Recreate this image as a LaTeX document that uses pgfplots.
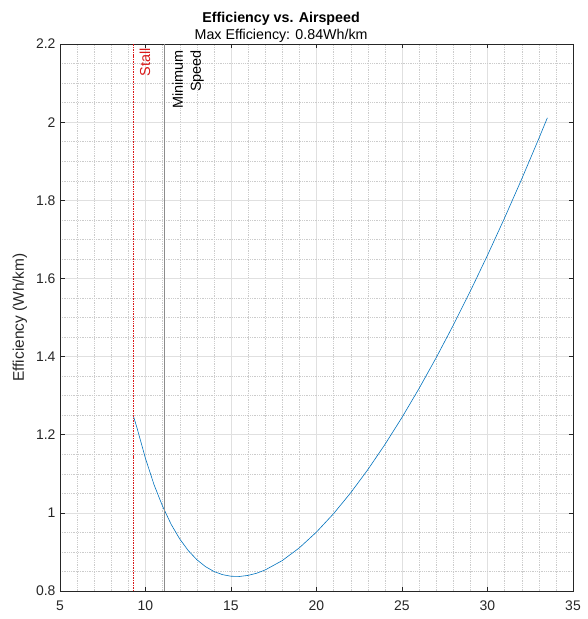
\documentclass[border=0pt]{standalone}
\usepackage{fontspec}
\setmainfont{Liberation Sans}
\usepackage{pgfplots}
\pgfplotsset{compat=1.18}
\definecolor{mblue}{rgb}{0,0.447,0.741}
\definecolor{axgray}{rgb}{0.15,0.15,0.15}
\definecolor{stallred}{rgb}{0.85,0.1,0.1}
\begin{document}
\begin{tikzpicture}
\begin{axis}[
  scale only axis,
  width=513bp, height=547bp,
  xmin=5, xmax=35, ymin=0.8, ymax=2.2,
  xtick={5,10,...,35},
  ytick={0.8,1,1.2,1.4,1.6,1.8,2,2.2},
  yticklabels={0.8,1,1.2,1.4,1.6,1.8,2,2.2},
  minor x tick num=4, minor y tick num=3,
  grid=both,
  major grid style={color=black!12, line width=0.5pt},
  minor grid style={color=black!20, dash pattern=on 0.6pt off 1.2pt, line width=0.4pt},
  minor tick length=0pt,
  major tick length=4.5bp,
  tick align=inside,
  axis line style={color=axgray, line width=0.5pt},
  tick style={color=axgray, line width=0.5pt},
  xtick pos=both, ytick pos=both,
  ticklabel style={font=\fontsize{14}{16}\selectfont, color=black!85},
  xticklabel style={yshift=-6bp},
  yticklabel style={xshift=-1bp},
  /pgf/number format/assume math mode=true,
  ylabel={Efficiency (Wh/km)},
  ylabel style={font=\fontsize{15.5}{17}\selectfont, color=black!85, at={(axis description cs:-0.064,0.5)}, anchor=south, inner sep=0pt},
  title={\textbf{Efficiency vs. Airspeed}\\Max Efficiency: 0.84Wh/km},
  title style={align=center, font=\fontsize{14.3}{17}\selectfont, at={(rel axis cs:0.431,1)}, anchor=south, inner sep=0pt, yshift=-5bp},
  clip=false,
]
\addplot[color=mblue, line width=0.6pt] coordinates {
(9.29,1.248) (9.5,1.218) (10,1.139) (10.5,1.072) (11,1.0168) (11.5,0.9706)
(12,0.9333) (12.5,0.9035) (13,0.8802) (13.5,0.8626) (14,0.8500) (14.5,0.8419)
(15,0.8378) (15.5,0.8372) (16,0.8399) (16.5,0.8455) (17,0.8539) (18,0.8779)
(19,0.9106) (20,0.9509) (21,0.9980) (22,1.0514) (23,1.1105) (24,1.1749)
(25,1.2443) (26,1.3185) (27,1.3972) (28,1.4804) (29,1.5678) (30,1.6593)
(31,1.7549) (32,1.8544) (33,1.9578) (33.5,2.0110)
};
\addplot[color=stallred, dash pattern=on 1.5pt off 1pt, line width=0.8pt] coordinates {(9.29,0.8) (9.29,2.2)};
\addplot[color=black!45, line width=0.6pt] coordinates {(11.1,0.8) (11.1,2.2)};
\node[rotate=90, anchor=north east, color=stallred, font=\fontsize{14.5}{16}\selectfont, inner sep=2bp] at ([xshift=4bp,yshift=-2bp]axis cs:9.29,2.2) {Stall};
\node[rotate=90, anchor=north east, align=right, color=black, font=\fontsize{14.5}{18}\selectfont, inner sep=2bp] at ([xshift=6bp,yshift=-4bp]axis cs:11.1,2.2) {Minimum\\Speed};
\end{axis}
\path (current axis.south west) ++(-60bp,-28bp) rectangle ([shift={(15bp,44bp)}]current axis.north east);
\end{tikzpicture}
\end{document}
